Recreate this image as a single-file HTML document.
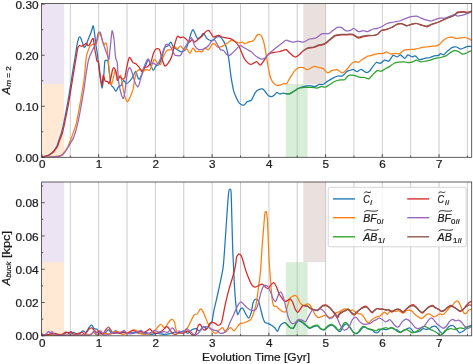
<!DOCTYPE html>
<html><head><meta charset="utf-8"><title>fig</title>
<style>html,body{margin:0;padding:0;background:#fff;}text{stroke:#1a1a1a;stroke-width:0.22px;}svg{display:block;will-change:transform;font-family:"Liberation Sans",sans-serif;}</style></head><body>
<svg width="473" height="364" viewBox="0 0 473 364">
<rect width="473" height="364" fill="#fff"/>
<defs>
<clipPath id="ct"><rect x="41.6" y="3.5" width="430.09999999999997" height="153.8"/></clipPath>
<clipPath id="cb"><rect x="41.6" y="182.0" width="430.09999999999997" height="153.8"/></clipPath>
</defs>
<rect x="41.94" y="84.0" width="22.21" height="73.3" fill="#ff7f0e" fill-opacity="0.18"/>
<rect x="41.94" y="3.5" width="22.21" height="80.5" fill="#9467bd" fill-opacity="0.18"/>
<rect x="285.77" y="84.0" width="21.84" height="73.3" fill="#2ca02c" fill-opacity="0.18"/>
<rect x="303.24" y="3.5" width="22.24" height="80.5" fill="#8c564b" fill-opacity="0.18"/>
<path d="M70.30,3.5 V157.3 M98.67,3.5 V157.3 M127.03,3.5 V157.3 M155.40,3.5 V157.3 M183.76,3.5 V157.3 M212.13,3.5 V157.3 M240.49,3.5 V157.3 M268.86,3.5 V157.3 M297.23,3.5 V157.3 M325.59,3.5 V157.3 M353.95,3.5 V157.3 M382.32,3.5 V157.3 M410.69,3.5 V157.3 M439.05,3.5 V157.3 M467.41,3.5 V157.3" stroke="#b0b0b0" stroke-opacity="0.7" stroke-width="0.9" fill="none"/>
<g clip-path="url(#ct)" fill="none" stroke-width="1.25" stroke-linejoin="round" stroke-linecap="butt">
<path d="M41.6,157.0C41.9,156.9 43.6,156.6 44.3,156.4C44.9,156.2 46.2,156.0 46.8,155.8C47.4,155.6 48.7,155.0 49.3,154.7C49.9,154.3 51.2,153.5 51.8,153.0C52.4,152.5 53.3,151.4 53.8,150.8C54.2,150.2 55.0,149.1 55.4,148.5C55.8,147.9 56.6,146.9 57.0,146.0C57.4,145.1 58.0,143.1 58.5,141.5C59.0,139.9 60.6,135.9 61.4,133.0C62.2,130.1 64.0,122.0 64.8,118.0C65.6,114.0 67.2,105.5 68.0,101.0C68.8,96.5 70.4,86.4 71.1,82.0C71.8,77.6 73.0,69.7 73.6,66.1C74.2,62.5 75.3,56.1 75.7,53.5C76.1,50.9 76.7,46.9 77.0,45.0C77.3,43.1 78.2,39.7 78.5,38.7C78.8,37.7 79.4,36.9 79.7,36.9C80.0,36.9 80.7,37.7 81.0,38.5C81.3,39.3 82.1,41.9 82.5,43.0C82.9,44.1 83.9,47.1 84.3,47.4C84.7,47.7 85.5,46.4 86.0,45.5C86.5,44.6 87.5,41.3 88.0,40.0C88.5,38.7 89.5,36.2 90.0,35.0C90.5,33.8 91.4,31.1 91.8,30.0C92.2,28.9 92.9,25.4 93.2,25.8C93.5,26.2 94.2,30.6 94.5,33.0C94.8,35.4 95.6,42.5 96.0,45.3C96.4,48.0 97.1,51.7 97.5,55.0C97.9,58.3 98.8,67.4 99.4,71.5C100.0,75.6 101.4,87.7 102.0,88.0C102.6,88.3 103.6,77.3 103.9,74.0C104.2,70.7 104.5,63.2 104.8,61.5C105.1,59.8 106.0,60.5 106.4,60.5C106.8,60.5 107.7,59.9 108.0,61.3C108.3,62.7 108.9,69.7 109.2,72.0C109.5,74.3 110.0,78.3 110.3,80.0C110.6,81.7 111.1,84.6 111.5,85.5C111.9,86.4 112.9,86.7 113.4,87.4C114.0,88.1 115.3,91.3 115.9,91.2C116.5,91.1 117.9,87.4 118.5,86.7C119.1,86.0 120.4,86.3 121.0,85.5C121.6,84.7 122.9,80.6 123.6,80.4C124.3,80.2 125.7,83.8 126.7,83.6C127.7,83.4 130.7,80.0 131.8,78.5C132.9,77.0 134.9,71.7 135.6,71.5C136.3,71.3 137.0,75.6 137.5,76.6C138.0,77.5 138.7,79.7 139.4,79.1C140.1,78.5 142.4,73.2 143.2,71.5C144.0,69.8 145.2,66.6 145.8,65.2C146.4,63.8 147.7,60.0 148.3,60.0C148.9,60.0 150.2,63.9 150.8,65.2C151.4,66.5 152.8,70.4 153.4,70.5C154.0,70.6 155.2,66.8 155.9,66.0C156.6,65.2 158.2,65.6 158.9,64.5C159.7,63.4 161.2,59.1 161.9,57.0C162.6,54.9 164.1,48.8 164.8,47.4C165.5,46.0 167.1,46.6 167.8,46.0C168.6,45.4 170.1,42.0 170.8,42.2C171.5,42.4 172.9,46.5 173.7,47.4C174.5,48.3 176.5,49.1 177.4,49.7C178.3,50.3 180.0,51.9 181.0,51.9C182.0,51.9 184.7,50.9 185.6,49.7C186.5,48.5 187.9,44.2 188.6,42.2C189.2,40.2 190.2,35.6 190.8,34.0C191.4,32.4 192.4,29.6 193.0,29.6C193.6,29.6 194.6,32.9 195.2,34.0C195.8,35.1 196.8,38.1 197.5,38.5C198.2,38.9 199.7,37.6 200.4,37.0C201.1,36.4 202.7,33.2 203.4,33.3C204.2,33.4 205.7,37.0 206.4,37.8C207.1,38.6 208.5,39.7 209.3,40.0C210.1,40.3 211.8,40.8 212.7,40.4C213.6,40.0 215.9,37.4 216.9,37.0C217.9,36.6 219.5,36.5 220.3,37.0C221.2,37.5 222.9,40.0 223.7,41.3C224.4,42.6 225.7,45.0 226.3,47.2C226.9,49.4 228.3,55.9 228.8,59.1C229.3,62.3 230.1,69.9 230.5,72.8C230.9,75.7 231.5,79.9 231.9,82.1C232.3,84.3 233.1,88.7 233.6,90.6C234.1,92.5 235.4,95.8 236.2,97.4C236.9,99.0 238.6,102.4 239.6,103.4C240.6,104.4 242.9,105.3 243.8,105.1C244.8,104.9 246.2,102.3 247.2,101.7C248.2,101.1 250.5,101.1 251.5,100.0C252.5,98.9 254.1,94.5 254.9,93.2C255.8,91.9 257.3,90.3 258.3,89.8C259.3,89.3 261.8,88.7 262.6,88.9C263.5,89.1 264.4,90.7 265.1,91.5C265.8,92.3 267.6,95.1 268.5,95.7C269.4,96.3 271.1,96.7 271.9,96.6C272.6,96.5 273.9,95.4 274.5,94.9C275.1,94.4 276.4,92.4 277.0,92.3C277.6,92.2 278.9,93.9 279.6,94.0C280.4,94.1 282.3,93.2 283.0,93.2C283.7,93.2 284.7,93.5 285.5,93.6C286.3,93.7 288.7,93.9 289.5,93.8C290.3,93.7 291.3,92.9 292.0,92.5C292.7,92.1 294.1,91.1 294.8,90.6C295.6,90.1 296.9,89.0 298.0,88.5C299.1,88.0 301.9,87.0 303.3,86.6C304.8,86.2 308.2,85.5 309.6,85.5C311.1,85.5 313.7,86.7 314.9,86.6C316.1,86.5 318.1,84.8 319.1,84.5C320.2,84.2 322.2,84.9 323.3,84.5C324.4,84.1 326.4,82.1 327.6,81.3C328.8,80.5 331.6,78.8 332.9,78.1C334.2,77.4 336.9,76.3 338.1,76.0C339.3,75.7 341.3,76.5 342.4,76.0C343.5,75.5 345.7,72.5 346.6,71.8C347.5,71.1 348.7,70.8 349.5,70.5C350.3,70.2 352.3,69.3 353.0,69.3C353.7,69.3 354.7,70.3 355.2,70.6C355.7,70.9 356.4,71.8 357.1,71.6C357.8,71.4 360.0,69.3 360.9,69.3C361.8,69.2 363.3,70.8 364.0,71.2C364.7,71.6 365.9,72.7 366.6,72.6C367.3,72.5 369.1,71.5 369.9,70.7C370.7,69.9 372.2,67.4 373.0,66.4C373.8,65.4 375.3,62.9 376.2,62.5C377.1,62.1 379.3,63.6 380.4,63.3C381.4,63.0 383.5,60.4 384.6,60.1C385.7,59.8 387.8,61.7 388.9,61.1C390.0,60.5 392.1,55.9 393.1,55.4C394.2,54.9 396.4,57.0 397.3,56.9C398.2,56.8 399.6,54.6 400.5,54.8C401.4,55.0 403.8,58.4 404.7,58.4C405.6,58.4 407.0,55.0 407.9,54.8C408.8,54.6 411.2,56.8 412.1,56.9C413.0,57.0 414.4,55.5 415.3,55.9C416.2,56.2 418.3,59.4 419.5,59.7C420.7,60.0 423.5,58.7 424.8,58.4C426.1,58.1 428.9,57.8 430.1,57.5C431.3,57.2 433.2,56.2 434.3,55.9C435.4,55.6 437.7,55.7 438.5,55.4C439.3,55.1 439.9,53.8 440.6,53.7C441.3,53.6 442.9,55.2 443.8,54.8C444.7,54.4 447.0,51.5 448.1,50.6C449.2,49.7 451.2,47.9 452.3,47.4C453.4,46.9 455.4,46.8 456.5,47.0C457.6,47.2 459.6,49.1 460.7,49.1C461.8,49.1 464.1,47.8 465.0,47.4C465.9,47.0 467.2,46.4 468.1,46.3C469.0,46.2 471.5,46.3 472.0,46.3" stroke="#1f77b4"/>
<path d="M41.6,157.0C43.0,157.0 50.6,156.9 52.5,156.8C54.4,156.7 55.9,156.5 56.8,156.4C57.7,156.3 59.3,156.2 60.0,155.9C60.7,155.6 61.9,154.8 62.5,154.3C63.1,153.8 64.1,152.4 64.6,151.8C65.1,151.2 65.9,149.9 66.3,149.2C66.7,148.5 67.2,148.0 67.9,146.5C68.6,145.0 70.7,139.8 71.7,137.0C72.7,134.2 75.1,127.8 76.0,124.4C76.9,121.0 78.2,113.8 79.0,109.6C79.8,105.4 81.7,94.3 82.3,90.6C82.9,86.9 83.6,82.8 84.0,80.0C84.4,77.2 84.9,71.0 85.2,68.0C85.5,65.0 86.0,58.2 86.4,55.9C86.8,53.6 88.0,50.8 88.5,49.5C89.0,48.2 89.9,46.0 90.7,45.3C91.5,44.6 94.2,44.2 94.9,44.0C95.6,43.8 95.9,44.9 96.3,44.0C96.7,43.1 97.5,38.4 98.0,37.0C98.5,35.6 99.5,32.5 100.0,32.7C100.5,33.0 101.5,37.5 102.0,39.0C102.5,40.5 103.4,44.2 103.9,44.7C104.4,45.2 105.4,42.6 105.8,42.8C106.2,43.0 106.7,44.5 107.0,46.6C107.3,48.8 108.0,56.6 108.3,60.0C108.6,63.4 109.3,70.9 109.6,74.0C109.9,77.1 110.5,84.0 110.9,84.8C111.3,85.6 112.2,82.3 112.8,80.4C113.3,78.5 114.8,69.6 115.3,69.6C115.8,69.6 116.6,79.7 117.2,80.4C117.8,81.1 119.8,74.8 120.4,75.3C121.0,75.8 121.8,81.6 122.3,84.2C122.8,86.8 124.1,94.0 124.8,96.2C125.5,98.4 126.9,101.6 127.5,101.8C128.1,102.0 129.2,99.1 129.9,97.5C130.6,95.9 132.4,91.8 133.0,89.3C133.6,86.8 134.5,80.0 135.0,77.8C135.5,75.6 136.3,72.5 136.9,71.5C137.5,70.5 139.2,69.6 140.0,69.6C140.8,69.6 142.5,71.5 143.2,71.5C143.9,71.5 145.0,69.8 145.8,69.6C146.6,69.4 148.9,70.7 149.6,70.2C150.3,69.8 150.9,67.4 151.5,66.0C152.1,64.6 153.7,59.7 154.4,59.3C155.1,58.9 156.7,62.4 157.4,63.0C158.2,63.6 159.7,65.2 160.4,64.5C161.1,63.8 162.5,58.8 163.3,57.0C164.1,55.2 166.1,51.3 167.0,50.4C167.9,49.5 170.0,50.2 170.8,49.7C171.6,49.2 172.9,46.1 173.7,46.0C174.5,45.9 176.6,48.9 177.4,48.9C178.2,48.9 179.6,45.9 180.4,46.0C181.2,46.1 183.3,49.3 184.1,49.7C184.9,50.1 186.3,48.4 187.0,48.9C187.7,49.4 189.2,53.5 190.0,53.4C190.8,53.3 192.2,48.4 193.0,48.2C193.8,48.0 195.3,51.5 196.0,51.9C196.7,52.3 198.2,51.1 198.9,51.1C199.6,51.1 201.2,52.3 201.9,51.9C202.7,51.5 204.1,48.5 204.9,48.2C205.7,47.9 207.5,50.2 208.4,49.8C209.3,49.4 211.1,45.5 211.8,44.7C212.6,44.0 213.7,43.5 214.4,43.8C215.2,44.1 216.9,46.9 217.8,47.2C218.8,47.5 220.9,46.8 222.0,46.4C223.1,46.0 225.1,44.5 226.3,43.8C227.5,43.0 230.3,40.7 231.4,40.4C232.5,40.1 233.9,41.0 234.8,41.3C235.8,41.6 238.1,42.9 239.0,43.0C239.9,43.1 241.7,42.0 242.4,42.1C243.2,42.2 244.2,43.8 245.0,43.8C245.8,43.8 247.6,42.4 248.4,42.1C249.2,41.8 251.1,41.6 251.8,41.3C252.6,41.0 253.8,40.4 254.4,39.6C255.0,38.9 256.3,35.9 256.9,35.3C257.5,34.7 258.9,34.3 259.5,34.5C260.1,34.7 261.4,35.6 262.0,37.0C262.6,38.4 264.1,43.2 264.6,45.5C265.1,47.8 265.9,53.1 266.3,55.7C266.7,58.3 267.6,63.6 268.0,66.0C268.4,68.3 269.3,72.8 269.7,74.5C270.1,76.2 271.0,78.9 271.5,80.0C272.0,81.1 272.9,82.3 273.6,83.0C274.3,83.7 276.0,85.3 277.0,85.5C278.0,85.7 280.4,85.0 281.3,84.7C282.2,84.5 283.2,83.6 283.8,83.5C284.4,83.4 285.8,84.2 286.4,83.8C287.0,83.4 288.0,81.3 288.5,80.5C289.0,79.7 289.8,78.3 290.6,77.1C291.4,75.9 293.8,71.9 294.8,70.7C295.9,69.5 297.9,68.0 299.0,67.6C300.1,67.2 302.2,67.3 303.3,67.6C304.4,67.9 306.2,69.8 307.5,69.7C308.8,69.6 312.4,66.8 313.8,66.5C315.2,66.2 317.9,67.3 319.1,67.6C320.3,67.9 322.2,67.9 323.3,68.6C324.4,69.3 326.5,72.6 327.6,72.9C328.7,73.2 330.6,71.1 331.8,70.7C333.0,70.3 335.8,69.4 337.1,69.7C338.4,70.0 341.2,72.9 342.4,72.9C343.6,72.9 345.6,70.8 346.6,69.7C347.7,68.6 349.9,65.3 350.8,64.4C351.7,63.5 352.8,62.6 353.5,62.2C354.2,61.8 355.5,61.5 356.1,61.5C356.7,61.5 357.7,62.6 358.4,62.4C359.1,62.2 360.5,60.6 361.4,60.0C362.3,59.4 364.6,58.1 365.4,57.6C366.2,57.1 367.3,56.2 367.9,56.0C368.5,55.8 369.4,55.9 370.0,55.8C370.6,55.6 372.0,55.1 373.0,54.8C374.0,54.5 377.0,53.9 378.3,53.7C379.6,53.5 382.6,53.5 383.6,53.3C384.7,53.1 385.8,51.9 386.7,52.0C387.6,52.1 389.9,54.0 391.0,54.2C392.1,54.4 394.1,53.4 395.2,53.3C396.2,53.2 398.2,54.1 399.4,53.7C400.6,53.3 403.4,50.4 404.7,49.9C406.0,49.4 408.7,49.6 410.0,49.5C411.3,49.4 414.0,49.3 415.3,49.1C416.6,48.9 419.3,48.1 420.6,47.8C421.9,47.5 424.6,47.2 425.9,47.0C427.2,46.8 429.8,46.4 431.1,46.3C432.4,46.2 435.3,46.2 436.4,45.9C437.5,45.6 438.7,44.9 439.6,44.2C440.5,43.5 442.7,40.8 443.8,40.0C444.9,39.2 447.0,37.9 448.1,37.5C449.2,37.1 451.2,37.1 452.3,37.2C453.4,37.3 455.4,38.4 456.5,38.5C457.6,38.6 459.6,38.0 460.7,37.9C461.8,37.8 463.9,37.4 465.0,37.5C466.1,37.6 468.3,38.5 469.2,38.9C470.1,39.3 471.6,40.7 472.0,41.0" stroke="#ff7f0e"/>
<path d="M285.5,93.6C286.0,93.6 288.7,93.9 289.5,93.8C290.3,93.7 291.3,92.9 292.0,92.5C292.7,92.1 294.1,91.2 294.8,90.8C295.5,90.4 296.8,89.4 297.5,89.0C298.2,88.6 299.1,88.1 300.1,87.9C301.1,87.7 303.9,87.5 305.4,87.4C306.8,87.3 310.2,87.3 311.7,87.4C313.1,87.5 315.8,88.2 317.0,88.1C318.2,88.0 320.1,86.7 321.2,86.6C322.3,86.5 324.4,87.5 325.5,87.2C326.6,86.9 328.5,85.2 329.7,84.5C330.9,83.8 333.7,81.9 335.0,81.3C336.3,80.7 339.1,80.0 340.3,79.8C341.5,79.6 343.4,80.3 344.5,79.8C345.6,79.2 347.5,76.0 348.7,75.4C349.9,74.9 352.7,75.2 354.0,75.4C355.3,75.6 358.0,76.8 359.3,77.1C360.6,77.4 363.4,77.3 364.6,77.5C365.8,77.7 367.8,79.2 368.8,78.8C369.9,78.4 371.9,75.5 373.0,74.5C374.1,73.5 376.1,71.0 377.2,70.6C378.3,70.2 380.4,71.4 381.5,71.1C382.6,70.8 384.6,69.1 385.7,68.5C386.8,67.9 388.8,67.1 389.9,66.4C390.9,65.8 393.0,63.8 394.1,63.3C395.2,62.8 397.2,62.4 398.4,62.2C399.6,62.0 402.5,61.8 403.7,61.8C404.9,61.8 406.8,62.5 407.9,62.6C408.9,62.7 411.1,62.5 412.1,62.2C413.2,61.9 415.2,60.2 416.3,60.1C417.4,60.0 419.4,61.7 420.6,61.8C421.8,61.9 424.7,61.3 425.9,61.1C427.1,60.9 428.9,60.4 430.1,60.1C431.3,59.8 434.1,58.7 435.4,58.4C436.7,58.1 439.3,57.8 440.6,57.5C441.9,57.2 444.7,56.5 445.9,55.9C447.1,55.3 449.1,53.4 450.2,52.7C451.3,52.0 453.3,50.7 454.4,50.6C455.4,50.5 457.5,51.1 458.6,51.6C459.7,52.1 461.8,54.1 462.9,54.2C464.0,54.3 466.2,53.1 467.1,52.7C468.0,52.3 469.6,51.4 470.2,51.2C470.8,51.0 471.8,51.2 472.0,51.2" stroke="#2ca02c"/>
<path d="M41.6,157.0C42.0,156.9 43.8,156.6 44.5,156.4C45.2,156.2 46.4,156.0 47.0,155.8C47.6,155.6 48.9,155.1 49.5,154.8C50.1,154.5 51.5,153.6 52.1,153.1C52.7,152.6 53.7,151.6 54.2,151.0C54.7,150.4 55.5,149.3 55.9,148.7C56.3,148.1 57.2,147.1 57.6,146.2C58.0,145.3 58.6,143.0 59.2,141.3C59.8,139.6 61.6,135.8 62.4,132.9C63.2,130.0 64.9,122.0 65.7,118.0C66.5,114.0 68.2,105.5 69.0,101.0C69.8,96.5 71.4,86.4 72.1,82.0C72.8,77.6 74.1,69.7 74.7,66.1C75.3,62.5 76.4,55.8 76.8,53.5C77.2,51.2 77.6,48.8 77.9,47.8C78.2,46.8 78.9,45.9 79.4,45.7C79.9,45.5 81.4,46.3 82.1,46.2C82.8,46.1 84.2,45.0 84.7,44.6C85.2,44.2 85.9,42.9 86.3,43.0C86.7,43.1 87.5,45.5 87.9,45.7C88.3,45.9 89.1,45.1 89.5,44.6C89.9,44.1 90.8,42.1 91.1,41.4C91.4,40.7 91.8,39.7 92.1,39.3C92.4,38.9 93.0,38.1 93.2,38.5C93.4,38.9 93.7,41.1 93.9,42.5C94.1,43.9 94.7,48.5 94.9,50.0C95.1,51.5 95.5,53.1 95.8,54.5C96.0,55.9 96.6,59.9 96.9,60.9C97.2,61.9 98.1,60.6 98.5,62.2C98.9,63.8 99.6,71.1 100.0,74.0C100.4,76.9 101.6,85.3 102.0,85.5C102.4,85.7 102.8,75.9 103.2,75.3C103.6,74.7 104.6,80.2 105.2,81.0C105.8,81.8 107.2,81.3 107.7,81.6C108.2,81.9 108.6,84.1 109.0,83.6C109.4,83.1 110.5,79.5 110.9,77.8C111.3,76.1 112.1,71.3 112.5,70.0C112.9,68.7 113.6,67.5 114.0,67.7C114.4,67.9 115.4,69.9 115.9,71.5C116.4,73.1 117.3,79.8 117.8,80.4C118.3,81.0 119.1,76.8 119.7,76.6C120.3,76.4 121.7,78.9 122.3,79.1C122.9,79.2 124.2,79.2 124.8,77.8C125.3,76.4 126.1,70.2 126.7,67.7C127.3,65.2 128.5,58.1 129.3,57.5C130.1,56.9 132.1,61.8 133.0,62.6C133.9,63.4 135.4,63.3 136.2,63.9C137.0,64.5 138.7,66.8 139.4,67.7C140.1,68.7 141.4,71.5 142.0,71.5C142.6,71.5 143.3,68.3 143.9,67.7C144.5,67.1 146.1,67.6 147.0,67.0C147.9,66.4 150.0,64.2 150.8,62.6C151.6,61.0 152.6,55.7 153.2,54.0C153.8,52.3 155.1,49.5 155.9,49.0C156.7,48.5 158.8,48.5 159.6,49.7C160.3,50.9 161.2,56.6 161.9,58.6C162.6,60.6 164.1,65.4 164.8,66.0C165.5,66.6 167.0,64.8 167.8,63.7C168.6,62.6 170.7,59.3 171.5,57.0C172.3,54.7 173.8,47.8 174.5,45.2C175.2,42.6 176.7,37.2 177.4,36.3C178.1,35.4 179.7,37.7 180.4,37.8C181.2,37.9 182.7,36.8 183.4,37.0C184.1,37.2 185.6,38.6 186.3,39.3C187.0,39.9 188.6,42.2 189.3,42.2C190.1,42.2 191.7,39.3 192.3,39.3C193.0,39.3 193.8,42.2 194.5,42.2C195.2,42.2 197.3,40.0 198.2,39.3C199.1,38.6 201.0,37.2 201.9,36.3C202.8,35.4 204.8,32.6 205.6,31.9C206.4,31.2 207.9,30.1 208.6,30.4C209.3,30.7 210.9,33.2 211.5,34.0C212.1,34.8 212.6,36.8 213.5,37.0C214.4,37.2 217.5,35.3 218.6,35.3C219.7,35.3 221.0,36.7 222.0,37.0C223.0,37.3 225.2,37.7 226.3,37.9C227.4,38.1 229.3,38.2 230.5,38.7C231.7,39.2 234.5,41.1 235.6,42.1C236.7,43.1 238.2,45.1 239.0,46.4C239.8,47.7 240.9,50.8 241.6,52.3C242.2,53.8 243.4,57.0 244.2,58.3C244.9,59.6 246.8,61.9 247.6,62.6C248.4,63.4 250.2,64.3 251.0,64.3C251.8,64.3 253.7,62.9 254.4,62.6C255.1,62.3 256.2,61.4 256.9,61.7C257.6,62.0 259.4,65.2 260.3,65.1C261.2,65.0 262.8,62.1 263.7,60.9C264.6,59.7 266.2,56.7 267.1,55.7C268.0,54.7 269.5,53.6 270.5,53.2C271.5,52.8 273.6,52.5 274.8,52.3C276.0,52.1 278.9,51.7 279.9,51.5C280.9,51.3 282.2,50.7 283.0,50.5C283.8,50.3 285.4,49.2 286.3,49.6C287.2,50.0 289.5,52.9 290.6,53.8C291.7,54.7 293.8,56.9 294.8,57.0C295.9,57.1 297.9,55.7 299.0,54.9C300.1,54.1 302.2,51.5 303.3,50.7C304.4,49.9 306.2,48.9 307.5,48.5C308.8,48.1 312.4,47.9 313.8,47.5C315.2,47.1 317.8,45.8 319.1,45.4C320.4,45.0 323.1,45.0 324.4,44.3C325.7,43.6 328.4,41.1 329.7,40.1C331.0,39.1 333.6,36.6 335.0,35.9C336.4,35.2 339.7,34.9 341.3,34.8C342.9,34.7 346.2,34.8 347.7,34.8C349.1,34.8 351.6,34.4 352.9,34.8C354.2,35.2 357.0,37.7 358.2,38.0C359.4,38.3 361.3,37.2 362.5,36.9C363.7,36.6 366.4,36.1 367.7,35.9C369.0,35.7 371.8,35.7 373.0,35.5C374.2,35.3 376.1,35.1 377.2,34.5C378.3,33.9 380.3,31.1 381.5,30.5C382.7,29.9 385.4,29.8 386.7,29.4C388.0,29.0 390.7,28.0 392.0,27.3C393.3,26.6 396.1,24.6 397.3,24.1C398.5,23.7 400.3,23.5 401.5,23.7C402.7,23.9 405.5,25.8 406.8,25.8C408.1,25.9 410.9,24.4 412.1,24.1C413.3,23.8 415.1,23.4 416.3,23.5C417.5,23.6 420.3,24.8 421.6,25.2C422.9,25.6 425.6,26.9 426.9,26.8C428.2,26.7 430.9,24.6 432.2,24.1C433.5,23.6 436.2,23.0 437.5,22.5C438.8,22.0 441.5,20.9 442.8,20.3C444.1,19.7 446.8,18.4 448.1,17.8C449.4,17.2 452.1,16.4 453.3,15.7C454.5,15.0 456.4,12.7 457.6,12.2C458.8,11.7 461.7,11.5 462.9,11.5C464.1,11.5 466.0,12.4 467.1,12.3C468.2,12.2 471.4,11.0 472.0,10.8" stroke="#d62728"/>
<path d="M41.6,157.0C43.0,157.0 51.0,156.9 52.9,156.8C54.8,156.7 56.1,156.5 57.1,156.4C58.1,156.3 59.8,156.2 60.5,155.9C61.2,155.6 62.5,154.8 63.1,154.3C63.7,153.8 64.7,152.4 65.2,151.8C65.7,151.2 66.5,149.9 66.9,149.2C67.3,148.5 68.2,147.2 68.6,146.5C69.0,145.8 69.5,144.7 70.2,143.5C70.9,142.3 72.8,139.7 73.8,137.0C74.8,134.3 77.1,126.2 78.0,122.3C78.9,118.3 80.4,109.9 81.2,105.4C82.0,100.9 83.9,89.7 84.4,86.3C84.9,82.9 85.0,81.3 85.5,78.0C86.0,74.7 87.6,63.6 88.5,60.0C89.4,56.4 91.9,51.6 92.8,49.5C93.7,47.4 95.3,45.2 96.0,43.2C96.7,41.2 97.6,35.1 98.0,33.7C98.4,32.3 99.1,32.1 99.4,32.0C99.7,31.9 100.1,31.8 100.5,33.0C100.9,34.2 102.0,39.6 102.6,41.6C103.2,43.6 104.5,47.2 105.2,49.2C105.9,51.2 107.8,56.8 108.3,58.0C108.8,59.2 108.7,60.6 109.0,59.0C109.3,57.4 110.1,48.5 110.5,45.0C110.9,41.5 111.7,31.6 112.1,30.8C112.5,30.1 113.6,36.0 114.0,39.0C114.4,42.0 115.0,52.5 115.3,55.0C115.5,57.5 115.8,58.3 116.0,59.3C116.2,60.2 116.9,60.0 117.2,62.6C117.5,65.2 118.1,76.9 118.5,80.4C118.9,84.0 119.8,88.7 120.4,91.0C121.0,93.3 122.5,98.6 123.1,98.7C123.7,98.8 124.5,94.8 124.9,92.0C125.4,89.2 126.2,79.6 126.7,76.6C127.2,73.6 128.7,68.3 129.3,67.7C129.9,67.1 131.2,69.9 131.8,71.5C132.4,73.1 133.6,78.5 134.3,80.4C135.0,82.3 136.9,86.3 137.5,86.7C138.1,87.1 138.8,85.5 139.4,83.6C140.0,81.7 141.8,74.1 142.6,71.5C143.4,68.9 145.1,64.2 145.8,62.6C146.5,61.0 147.7,58.6 148.3,58.8C148.9,59.0 150.2,63.4 150.8,63.9C151.4,64.4 152.4,62.9 153.0,63.0C153.6,63.1 155.2,64.6 155.9,64.5C156.6,64.4 158.1,63.8 158.9,62.3C159.7,60.8 161.8,54.7 162.6,52.6C163.4,50.5 164.9,46.2 165.6,45.2C166.3,44.2 167.8,44.1 168.5,44.5C169.2,44.9 170.8,46.9 171.5,48.2C172.2,49.5 173.8,54.0 174.5,54.9C175.2,55.8 176.7,55.5 177.4,55.6C178.1,55.7 179.7,56.3 180.4,55.6C181.2,54.9 182.7,51.0 183.4,49.7C184.1,48.4 185.6,46.4 186.3,45.2C187.0,44.0 188.7,40.9 189.3,40.0C190.0,39.1 190.8,37.1 191.5,37.8C192.2,38.4 193.8,43.8 194.5,45.2C195.2,46.6 196.7,48.3 197.5,48.9C198.3,49.5 200.3,49.8 201.2,49.7C202.1,49.6 204.0,48.7 204.9,48.2C205.8,47.7 207.8,46.4 208.6,45.5C209.4,44.6 210.8,41.7 211.5,41.0C212.2,40.3 213.7,39.4 214.4,39.8C215.1,40.1 216.3,42.6 217.0,43.8C217.7,45.0 219.5,48.6 220.3,49.5C221.1,50.4 222.9,50.0 223.7,50.6C224.4,51.2 225.7,53.4 226.3,54.0C226.9,54.6 228.1,55.8 228.8,55.7C229.5,55.6 231.2,54.1 232.2,53.2C233.2,52.4 235.5,49.9 236.5,48.9C237.5,47.9 239.1,45.7 239.9,45.5C240.8,45.3 242.3,46.7 243.3,47.2C244.3,47.7 246.6,49.3 247.6,49.8C248.6,50.3 250.2,50.9 251.0,51.5C251.8,52.1 253.6,54.2 254.4,54.9C255.2,55.6 256.9,56.9 257.8,57.4C258.7,57.9 260.3,59.0 261.2,59.1C262.1,59.2 263.8,58.8 264.6,58.3C265.5,57.8 267.1,55.8 268.0,54.9C268.9,54.0 270.4,52.4 271.4,51.5C272.3,50.6 274.5,49.0 275.6,48.1C276.7,47.2 279.0,45.4 279.9,44.7C280.8,44.0 282.2,43.1 283.0,42.5C283.8,41.9 285.1,40.1 286.3,40.1C287.5,40.1 291.2,42.1 292.7,42.2C294.2,42.3 296.7,41.1 298.0,41.1C299.3,41.1 301.9,42.5 303.3,42.2C304.8,41.9 308.0,39.5 309.6,39.0C311.2,38.5 314.3,38.7 315.9,38.0C317.5,37.3 320.7,34.2 322.3,33.7C323.9,33.2 327.3,34.1 328.6,33.7C329.9,33.3 331.8,31.4 332.9,30.6C334.0,29.8 336.1,27.8 337.1,27.4C338.2,27.0 340.2,27.0 341.3,27.4C342.4,27.8 344.4,30.2 345.5,30.6C346.6,31.0 348.7,30.9 349.8,30.6C350.9,30.3 352.9,28.4 354.0,28.5C355.1,28.6 357.0,31.3 358.2,31.6C359.4,31.9 362.3,30.6 363.5,30.6C364.7,30.6 366.5,31.8 367.7,31.6C368.9,31.4 371.8,29.4 373.0,29.0C374.2,28.6 376.0,28.7 377.2,28.4C378.4,28.1 381.2,27.0 382.5,26.3C383.8,25.6 386.4,23.6 387.8,23.1C389.2,22.6 392.7,22.3 394.1,22.0C395.6,21.7 398.1,21.4 399.4,21.0C400.7,20.6 403.2,19.4 404.7,18.9C406.1,18.4 409.6,17.0 411.0,16.7C412.4,16.4 415.1,16.0 416.3,16.1C417.5,16.2 419.4,17.3 420.6,17.8C421.8,18.3 424.6,19.5 425.9,19.9C427.2,20.3 429.9,21.1 431.1,21.0C432.3,20.9 434.3,19.9 435.4,19.5C436.5,19.1 438.4,18.4 439.6,18.2C440.8,18.0 443.6,18.5 444.9,18.2C446.2,17.9 449.0,16.6 450.2,16.1C451.4,15.7 453.5,14.6 454.4,14.6C455.3,14.6 456.7,16.0 457.6,16.1C458.5,16.2 460.6,15.6 461.8,15.3C463.0,15.0 465.8,14.1 467.1,13.6C468.4,13.1 471.4,11.8 472.0,11.5" stroke="#9467bd"/>
<path d="M303.3,50.7C303.8,50.4 306.2,48.5 307.5,48.0C308.8,47.5 312.4,47.4 313.8,47.0C315.2,46.6 317.8,45.3 319.1,44.9C320.4,44.5 323.1,44.5 324.4,43.8C325.7,43.1 328.4,40.6 329.7,39.6C331.0,38.6 333.6,36.1 335.0,35.4C336.4,34.7 339.7,34.4 341.3,34.3C342.9,34.2 346.2,34.3 347.7,34.3C349.1,34.3 351.6,33.9 352.9,34.3C354.2,34.7 357.0,37.0 358.2,37.2C359.4,37.4 361.3,36.4 362.5,36.2C363.7,36.0 366.4,35.5 367.7,35.4C369.0,35.3 371.8,35.6 373.0,35.5C374.2,35.4 376.1,35.1 377.2,34.5C378.3,33.9 380.3,31.1 381.5,30.5C382.7,29.9 385.4,29.8 386.7,29.4C388.0,29.0 390.7,28.0 392.0,27.3C393.3,26.6 396.1,24.6 397.3,24.1C398.5,23.7 400.3,23.5 401.5,23.7C402.7,23.9 405.5,25.6 406.8,25.6C408.1,25.7 410.9,24.4 412.1,24.1C413.3,23.8 415.1,23.4 416.3,23.5C417.5,23.6 420.3,24.7 421.6,25.0C422.9,25.3 425.6,26.1 426.9,26.0C428.2,25.9 430.9,24.5 432.2,24.1C433.5,23.7 436.2,23.0 437.5,22.5C438.8,22.0 441.5,20.9 442.8,20.3C444.1,19.7 446.8,18.4 448.1,17.8C449.4,17.2 452.1,16.3 453.3,15.7C454.5,15.1 456.4,13.2 457.6,12.8C458.8,12.4 461.7,12.2 462.9,12.2C464.1,12.2 466.0,12.9 467.1,12.8C468.2,12.7 471.4,11.5 472.0,11.3" stroke="#8c564b"/>
</g>
<rect x="41.94" y="262.2" width="22.21" height="73.6" fill="#ff7f0e" fill-opacity="0.18"/>
<rect x="41.94" y="182.0" width="22.21" height="80.2" fill="#9467bd" fill-opacity="0.18"/>
<rect x="285.77" y="262.2" width="21.84" height="73.6" fill="#2ca02c" fill-opacity="0.18"/>
<rect x="303.24" y="182.0" width="22.24" height="80.2" fill="#8c564b" fill-opacity="0.18"/>
<path d="M70.30,182.0 V335.8 M98.67,182.0 V335.8 M127.03,182.0 V335.8 M155.40,182.0 V335.8 M183.76,182.0 V335.8 M212.13,182.0 V335.8 M240.49,182.0 V335.8 M268.86,182.0 V335.8 M297.23,182.0 V335.8 M325.59,182.0 V335.8 M353.95,182.0 V335.8 M382.32,182.0 V335.8 M410.69,182.0 V335.8 M439.05,182.0 V335.8 M467.41,182.0 V335.8" stroke="#b0b0b0" stroke-opacity="0.7" stroke-width="0.9" fill="none"/>
<g clip-path="url(#cb)" fill="none" stroke-width="1.25" stroke-linejoin="round" stroke-linecap="butt">
<path d="M41.6,335.4C42.6,335.3 48.0,334.9 50.0,334.9C52.0,334.9 56.2,335.2 58.0,335.1C59.8,335.0 63.0,334.7 64.0,334.4C65.0,334.1 65.3,332.9 66.0,332.6C66.7,332.4 69.0,332.5 69.6,332.5C70.2,332.6 70.5,333.2 71.0,333.2C71.5,333.2 73.1,332.4 74.0,332.5C74.9,332.7 77.4,334.5 78.5,334.3C79.6,334.0 82.0,331.0 82.9,330.8C83.8,330.6 85.2,332.9 85.9,332.5C86.6,332.2 88.1,328.8 88.8,327.8C89.5,326.8 90.8,324.7 91.5,324.8C92.2,324.9 93.3,327.9 94.0,328.5C94.7,329.1 96.3,328.7 97.0,329.2C97.7,329.7 98.6,331.9 99.2,332.5C99.8,333.1 101.3,333.9 102.0,334.0C102.7,334.1 104.2,334.0 105.0,333.4C105.8,332.9 107.7,329.6 108.5,329.6C109.3,329.6 110.9,333.3 111.8,333.4C112.7,333.6 115.2,330.5 116.0,330.5C116.8,330.5 117.6,333.2 118.6,333.4C119.6,333.7 122.4,332.4 123.7,332.4C125.0,332.4 127.5,333.4 128.8,333.4C130.1,333.4 132.3,332.4 133.8,332.4C135.3,332.4 139.1,333.4 140.6,333.4C142.1,333.4 144.4,332.3 145.7,332.4C147.0,332.5 149.2,334.2 150.7,334.4C152.2,334.5 155.8,333.4 157.5,333.4C159.2,333.4 162.6,334.4 164.3,334.4C166.0,334.4 169.7,333.7 171.0,333.4C172.3,333.2 174.0,332.2 175.0,332.2C176.0,332.2 178.1,333.5 179.2,333.3C180.3,333.2 182.4,330.9 183.5,330.9C184.6,330.9 186.6,333.5 187.7,333.3C188.8,333.2 190.8,330.4 191.9,329.8C193.0,329.2 195.2,328.6 196.1,328.7C197.0,328.8 198.4,331.2 199.3,330.9C200.2,330.7 202.6,326.9 203.5,326.6C204.4,326.3 205.9,329.0 206.7,328.7C207.5,328.4 209.2,325.4 209.9,324.5C210.6,323.6 211.5,323.2 212.0,321.3C212.5,319.4 213.4,312.9 214.1,309.7C214.8,306.5 216.5,299.6 217.3,296.0C218.1,292.4 219.8,284.3 220.5,281.1C221.2,277.9 222.2,272.9 222.6,270.6C223.0,268.3 223.3,266.9 223.6,263.0C223.9,259.1 224.9,245.6 225.3,239.3C225.7,233.0 226.7,218.2 227.1,212.3C227.5,206.4 228.4,194.8 228.7,192.0C229.0,189.2 229.4,189.8 229.6,189.5C229.8,189.2 230.2,189.0 230.4,189.3C230.6,189.6 230.9,188.7 231.1,192.0C231.3,195.3 231.6,209.2 231.8,216.0C232.0,222.8 232.4,240.2 232.6,246.0C232.8,251.8 233.1,258.1 233.3,262.0C233.5,265.9 233.8,272.5 234.0,277.0C234.2,281.5 235.0,293.8 235.3,298.0C235.6,302.2 236.4,308.6 236.7,310.7C237.0,312.8 237.5,314.7 238.0,314.5C238.5,314.3 239.9,309.8 240.5,309.0C241.1,308.2 242.0,307.6 242.7,308.2C243.4,308.8 245.1,312.7 245.8,313.9C246.5,315.1 247.9,318.2 248.6,318.1C249.3,318.0 250.5,314.9 251.1,312.9C251.7,310.9 252.6,304.0 253.2,302.3C253.8,300.6 255.1,299.2 255.8,299.1C256.5,299.0 257.9,300.0 258.5,301.2C259.1,302.4 260.1,306.6 260.6,308.6C261.1,310.6 262.2,315.4 262.7,317.1C263.2,318.8 264.2,321.6 264.9,322.4C265.6,323.2 267.2,323.0 268.0,323.4C268.8,323.8 270.5,324.6 271.4,325.2C272.2,325.8 274.1,327.0 274.8,327.8C275.6,328.6 276.8,331.6 277.4,331.4C278.0,331.2 279.3,327.1 279.9,326.1C280.5,325.1 281.9,323.9 282.5,323.5C283.1,323.1 284.4,322.5 285.0,322.7C285.6,322.9 287.0,324.4 287.6,325.0C288.2,325.6 289.4,327.1 290.1,327.5C290.8,327.9 292.8,328.8 293.5,328.3C294.2,327.8 295.5,324.4 296.1,323.5C296.7,322.6 297.9,321.1 298.6,321.0C299.3,320.9 301.1,322.0 302.0,322.5C302.9,323.0 304.4,324.3 305.4,325.0C306.4,325.7 308.7,328.1 309.7,328.3C310.7,328.5 312.1,327.1 313.1,326.8C314.1,326.5 316.4,325.7 317.4,326.0C318.4,326.3 319.9,328.5 320.8,329.0C321.7,329.5 323.3,330.2 324.2,330.0C325.1,329.8 326.8,327.6 327.6,327.0C328.5,326.4 330.3,325.3 331.0,325.2C331.7,325.1 332.9,325.6 333.5,326.0C334.1,326.4 335.5,327.9 336.1,328.5C336.7,329.1 338.1,330.8 338.6,331.1C339.1,331.5 339.7,332.0 340.2,331.6C340.7,331.2 341.8,328.6 342.4,327.7C342.9,326.8 344.1,325.3 344.6,324.8C345.2,324.3 346.2,323.8 346.8,324.0C347.4,324.2 348.5,325.7 349.1,326.3C349.7,326.9 350.8,328.4 351.3,329.2C351.9,330.0 352.9,332.0 353.5,332.5C354.1,333.1 355.8,333.8 356.5,333.7C357.2,333.6 358.8,332.2 359.4,331.6C360.0,331.0 361.0,329.4 361.6,328.8C362.2,328.2 363.3,327.1 363.9,327.0C364.5,326.9 365.5,327.4 366.1,327.7C366.7,328.0 368.3,328.9 369.0,329.2C369.7,329.5 371.2,329.6 372.0,330.0C372.8,330.4 374.3,332.2 375.0,332.5C375.7,332.8 377.3,332.8 377.9,332.5C378.5,332.2 379.5,330.4 380.1,330.0C380.8,329.6 382.4,329.2 383.1,329.2C383.9,329.2 385.5,329.8 386.1,329.7C386.8,329.6 387.7,329.1 388.3,328.8C388.9,328.6 390.5,327.6 391.2,327.7C391.9,327.8 393.4,328.9 394.2,329.2C394.9,329.5 396.5,329.7 397.2,330.0C397.9,330.3 399.3,331.8 400.0,332.0C400.7,332.1 402.3,331.4 403.1,331.0C403.9,330.7 405.4,329.8 406.2,329.4C407.0,329.0 408.6,327.8 409.3,327.8C410.0,327.8 411.0,328.8 411.6,329.4C412.2,330.0 413.2,332.0 413.9,332.3C414.6,332.6 416.2,332.1 417.0,332.0C417.8,331.8 419.2,331.5 420.0,331.0C420.8,330.6 422.4,328.8 423.2,328.6C424.0,328.4 425.4,329.4 426.2,329.4C427.0,329.4 428.5,328.9 429.3,328.6C430.1,328.3 431.6,327.0 432.4,326.7C433.2,326.4 434.8,326.1 435.5,326.3C436.2,326.5 437.2,327.9 437.8,328.6C438.4,329.3 439.5,331.0 440.1,331.6C440.7,332.2 441.8,333.6 442.4,333.7C443.0,333.7 444.2,332.6 444.8,332.0C445.4,331.3 446.5,329.3 447.1,328.6C447.7,327.9 448.7,326.7 449.4,326.3C450.1,325.9 451.8,325.4 452.5,325.5C453.2,325.6 454.2,326.4 454.8,327.0C455.4,327.6 456.5,329.4 457.1,330.1C457.7,330.8 458.8,332.5 459.4,332.8C460.0,333.0 461.1,332.2 461.7,332.0C462.3,331.7 463.5,330.9 464.1,330.5C464.7,330.0 465.8,329.1 466.4,328.6C467.0,328.1 468.1,326.7 468.7,326.3C469.3,325.9 470.6,325.5 471.0,325.5C471.4,325.5 471.9,325.9 472.0,326.0" stroke="#1f77b4"/>
<path d="M41.6,335.4C43.9,335.4 55.2,335.2 60.0,335.1C64.8,335.0 76.2,335.0 80.0,334.9C83.8,334.8 88.6,334.6 90.3,334.3C92.0,334.0 92.6,332.5 93.3,332.5C94.0,332.6 95.2,334.4 96.0,334.6C96.8,334.8 98.7,334.2 100.0,334.0C101.3,333.9 105.5,333.4 106.8,333.4C108.1,333.5 109.0,334.6 110.1,334.4C111.1,334.1 114.1,331.9 115.2,331.5C116.3,331.1 117.8,331.1 118.6,331.5C119.4,331.9 120.7,334.3 122.0,334.4C123.3,334.5 127.4,333.0 128.8,332.4C130.2,331.9 132.1,330.2 133.0,330.0C133.9,329.8 135.6,330.0 136.4,330.5C137.2,330.9 138.8,333.0 139.7,333.4C140.6,333.9 142.6,334.4 144.0,334.4C145.4,334.4 149.2,334.0 150.7,333.4C152.2,332.9 154.8,330.5 155.8,329.6C156.8,328.7 157.8,326.8 158.4,326.2C159.0,325.6 160.3,324.4 160.9,324.5C161.5,324.6 162.9,326.6 163.4,327.0C163.9,327.4 164.6,328.3 165.1,327.9C165.6,327.5 167.1,324.6 167.7,323.7C168.3,322.8 169.6,320.8 170.2,320.3C170.8,319.8 172.2,319.3 172.7,319.5C173.2,319.7 174.0,321.0 174.4,322.0C174.8,323.0 175.3,326.4 175.6,327.7C175.9,329.0 176.4,331.5 177.1,332.2C177.8,332.9 180.2,333.5 181.3,333.3C182.4,333.2 184.5,332.2 185.6,330.9C186.7,329.7 188.8,325.4 189.8,323.4C190.9,321.4 193.1,316.2 194.0,315.0C194.9,313.8 196.4,314.6 197.2,313.9C198.0,313.1 199.7,309.4 200.4,309.0C201.1,308.6 201.8,309.6 202.5,310.7C203.2,311.8 204.9,316.2 205.7,318.1C206.5,320.0 208.0,323.9 208.8,325.5C209.6,327.1 211.1,329.9 212.0,330.9C212.9,331.9 215.3,333.5 216.2,333.3C217.1,333.2 218.6,330.5 219.4,329.8C220.2,329.1 221.8,327.4 222.6,327.7C223.4,328.0 224.9,332.1 225.7,332.2C226.5,332.3 228.2,329.3 228.9,328.7C229.6,328.1 230.3,327.4 231.0,327.7C231.7,328.0 233.4,331.1 234.2,330.9C235.0,330.8 236.6,327.5 237.4,326.6C238.2,325.7 239.7,323.8 240.5,323.4C241.3,322.9 242.8,323.3 243.7,323.0C244.6,322.7 247.0,321.8 247.9,321.3C248.8,320.8 250.3,320.5 251.1,319.2C251.9,317.9 253.6,312.8 254.3,310.7C255.0,308.6 255.9,305.2 256.4,302.3C256.9,299.4 258.0,291.5 258.5,287.5C259.0,283.5 260.2,275.2 260.6,270.6C261.0,266.0 261.4,255.9 261.8,250.6C262.2,245.3 263.2,232.8 263.6,228.1C264.0,223.4 264.6,215.4 264.9,213.4C265.1,211.4 265.4,212.2 265.6,212.0C265.8,211.8 266.1,210.9 266.3,211.8C266.5,212.7 267.1,215.3 267.4,219.0C267.6,222.7 268.1,235.6 268.3,241.0C268.5,246.4 268.9,257.5 269.2,262.0C269.4,266.5 270.0,273.1 270.3,277.0C270.6,280.9 271.2,289.8 271.5,293.0C271.8,296.2 272.4,301.3 272.8,303.0C273.2,304.7 273.8,305.9 274.3,306.3C274.8,306.7 275.9,306.2 276.5,306.5C277.1,306.8 278.4,308.4 279.1,309.0C279.9,309.6 281.6,311.3 282.5,311.6C283.4,311.9 285.3,312.4 285.9,311.6C286.5,310.9 287.1,307.3 287.6,305.6C288.1,303.9 289.5,299.2 290.1,298.0C290.7,296.8 292.1,296.6 292.7,296.3C293.3,296.0 294.6,295.2 295.2,295.4C295.8,295.6 297.2,297.0 297.8,298.0C298.4,299.0 299.6,302.2 300.3,303.1C301.0,304.1 302.8,305.5 303.7,305.6C304.6,305.7 306.4,304.0 307.1,303.9C307.9,303.8 309.1,304.2 309.7,304.8C310.3,305.4 311.7,307.8 312.3,309.0C312.9,310.2 314.1,313.0 314.8,314.1C315.5,315.2 317.3,317.3 318.2,317.6C319.1,317.9 320.8,317.0 321.6,316.7C322.5,316.4 324.2,315.0 325.0,315.0C325.8,315.0 327.0,316.4 327.6,316.7C328.2,317.0 329.4,317.7 330.1,317.6C330.8,317.5 332.8,316.5 333.5,315.9C334.2,315.3 335.5,313.2 336.1,312.7C336.7,312.2 337.4,312.4 338.0,312.2C338.6,311.9 340.2,311.1 340.9,310.7C341.6,310.3 343.2,309.4 343.9,309.2C344.6,309.0 346.1,309.0 346.8,309.2C347.5,309.4 349.1,310.6 349.8,310.7C350.6,310.8 352.1,309.8 352.8,310.0C353.5,310.2 355.0,311.7 355.7,312.2C356.4,312.7 358.0,313.4 358.7,313.7C359.4,314.0 360.9,313.8 361.6,314.4C362.3,314.9 364.0,317.2 364.6,318.1C365.2,319.0 366.2,321.2 366.8,321.8C367.4,322.4 368.4,322.8 369.0,322.6C369.6,322.4 370.7,320.9 371.3,320.3C371.9,319.7 373.5,318.6 374.2,318.1C374.9,317.6 376.5,316.9 377.2,316.6C377.9,316.3 379.5,316.3 380.1,315.9C380.8,315.5 381.8,314.2 382.4,313.7C383.0,313.2 384.0,312.1 384.6,312.2C385.2,312.3 386.9,314.5 387.5,314.4C388.1,314.3 389.2,312.0 389.8,311.5C390.4,311.0 392.0,310.7 392.7,310.7C393.4,310.7 395.0,311.5 395.7,311.5C396.4,311.5 397.9,310.6 398.6,310.7C399.3,310.8 401.0,312.1 401.6,312.4C402.2,312.7 402.5,313.4 403.1,313.2C403.7,313.0 405.4,311.2 406.2,310.8C407.0,310.4 408.5,310.0 409.3,310.1C410.1,310.2 411.5,311.0 412.3,311.6C413.1,312.2 414.6,314.0 415.4,314.7C416.2,315.4 417.7,316.5 418.5,317.0C419.3,317.5 420.8,318.7 421.6,318.6C422.4,318.5 423.9,316.8 424.7,316.2C425.5,315.6 427.0,314.1 427.8,313.9C428.6,313.7 430.1,314.3 430.9,314.7C431.7,315.1 433.2,316.9 434.0,317.0C434.8,317.1 436.2,315.9 437.0,315.5C437.8,315.1 439.3,314.0 440.1,313.9C440.9,313.8 442.4,315.0 443.2,314.7C444.0,314.4 445.5,312.5 446.3,311.6C447.1,310.7 448.6,308.5 449.4,307.7C450.2,306.9 451.8,306.1 452.5,305.4C453.2,304.7 454.2,302.9 454.8,302.3C455.4,301.7 456.8,300.7 457.4,300.8C458.0,300.9 458.9,302.1 459.4,303.1C459.9,304.1 461.1,307.2 461.7,308.5C462.3,309.8 463.5,312.6 464.1,313.2C464.7,313.8 465.8,313.6 466.4,313.2C467.0,312.8 468.0,310.6 468.7,310.1C469.4,309.6 471.6,309.4 472.0,309.3" stroke="#ff7f0e"/>
<path d="M285.5,322.7C285.8,323.0 287.0,324.6 287.6,325.2C288.2,325.8 289.4,327.5 290.1,327.8C290.8,328.1 292.8,328.4 293.5,327.8C294.2,327.2 295.5,323.7 296.1,322.7C296.7,321.7 297.9,320.2 298.6,320.1C299.3,320.0 301.1,321.3 302.0,321.8C302.9,322.3 304.4,323.6 305.4,324.4C306.4,325.1 308.7,327.6 309.7,327.8C310.7,328.0 312.1,326.4 313.1,326.1C314.1,325.8 316.4,324.9 317.4,325.2C318.4,325.5 319.9,328.1 320.8,328.6C321.7,329.1 323.3,329.8 324.2,329.5C325.1,329.2 326.8,326.7 327.6,326.1C328.5,325.5 330.3,324.5 331.0,324.4C331.7,324.3 332.9,324.9 333.5,325.2C334.1,325.5 335.0,326.3 335.5,326.8C336.0,327.3 336.7,328.8 337.2,329.2C337.7,329.6 338.8,330.3 339.4,330.0C340.0,329.7 341.1,327.8 341.7,327.0C342.3,326.2 343.3,323.9 343.9,323.3C344.4,322.8 345.6,322.4 346.1,322.6C346.7,322.8 347.8,324.1 348.3,324.8C348.9,325.5 349.9,327.6 350.5,328.5C351.1,329.4 352.2,331.0 352.8,331.6C353.4,332.2 355.0,333.3 355.7,333.3C356.4,333.3 358.1,332.2 358.7,331.6C359.3,331.0 360.3,329.2 360.9,328.5C361.4,327.8 362.6,326.5 363.1,326.3C363.7,326.1 364.7,326.7 365.3,327.0C365.9,327.3 367.0,328.2 367.6,328.5C368.2,328.8 369.8,329.0 370.5,329.2C371.2,329.4 372.8,329.8 373.5,330.0C374.2,330.2 375.8,330.9 376.4,330.8C377.0,330.7 378.1,329.4 378.7,329.2C379.3,329.0 380.3,329.3 380.9,329.2C381.5,329.1 383.1,328.4 383.8,328.2C384.5,328.0 385.5,327.6 386.1,327.7C386.8,327.8 388.3,328.8 389.0,328.8C389.7,328.8 391.3,327.6 392.0,327.7C392.7,327.8 394.2,328.7 394.9,329.2C395.6,329.7 397.2,331.2 397.9,331.6C398.6,332.0 399.9,332.8 400.5,332.6C401.1,332.5 402.4,330.9 403.1,330.5C403.8,330.1 405.4,329.3 406.2,329.4C407.0,329.5 408.5,330.6 409.3,331.0C410.1,331.5 411.5,332.6 412.3,332.8C413.1,332.9 414.6,332.3 415.4,332.0C416.2,331.6 417.7,330.6 418.5,330.1C419.3,329.6 420.8,328.3 421.6,327.8C422.4,327.3 423.9,326.3 424.7,326.3C425.5,326.3 427.0,327.4 427.8,327.8C428.6,328.2 430.1,329.4 430.9,329.8C431.7,330.2 433.2,330.7 434.0,331.0C434.8,331.4 436.3,332.3 437.0,332.8C437.7,333.2 438.8,334.7 439.4,334.9C440.0,335.1 441.0,335.1 441.7,334.6C442.4,334.1 444.0,331.7 444.8,331.0C445.6,330.4 447.0,329.7 447.8,329.4C448.6,329.1 450.1,328.6 450.9,328.6C451.7,328.6 453.2,329.4 454.0,329.4C454.8,329.4 456.3,328.8 457.1,328.6C457.9,328.4 459.4,327.8 460.2,327.8C461.0,327.8 462.5,328.7 463.3,328.6C464.1,328.5 465.6,327.3 466.4,327.0C467.2,326.7 468.8,326.2 469.5,326.3C470.2,326.4 471.7,327.6 472.0,327.8" stroke="#2ca02c"/>
<path d="M41.6,335.4C42.5,335.3 47.2,334.5 48.9,334.3C50.5,334.0 53.3,333.2 54.8,333.3C56.3,333.4 59.3,335.1 60.7,335.0C62.1,334.9 64.9,332.4 65.9,332.2C66.9,332.0 68.3,333.4 68.9,333.3C69.5,333.3 70.4,331.6 71.0,331.7C71.6,331.8 73.1,334.1 74.0,334.3C74.9,334.5 77.5,333.6 78.5,333.3C79.5,333.1 81.4,332.4 82.2,332.5C83.0,332.6 84.3,334.7 85.1,334.3C85.9,333.8 88.0,330.0 88.8,329.2C89.6,328.4 91.1,327.7 91.8,327.8C92.5,327.9 93.3,329.4 94.0,330.0C94.7,330.6 96.3,332.4 97.0,332.5C97.7,332.6 98.5,330.6 99.2,330.8C99.9,331.0 101.7,333.7 102.2,334.0C102.7,334.4 102.9,334.0 103.4,333.4C103.9,332.9 105.3,330.4 105.9,329.6C106.5,328.8 107.9,326.9 108.5,327.0C109.1,327.1 110.4,329.7 111.0,330.5C111.6,331.3 112.8,333.2 113.5,333.4C114.2,333.7 116.1,332.4 116.9,332.4C117.8,332.4 119.5,333.6 120.3,333.4C121.1,333.3 122.9,331.5 123.7,331.5C124.5,331.5 126.2,333.4 127.0,333.4C127.8,333.4 129.6,331.9 130.4,331.5C131.2,331.1 133.0,330.3 133.8,330.5C134.7,330.6 136.3,332.3 137.2,332.4C138.0,332.5 139.8,331.5 140.6,331.5C141.4,331.5 143.2,332.5 144.0,332.4C144.8,332.3 146.7,330.9 147.4,330.5C148.1,330.0 149.3,328.7 149.9,328.8C150.5,328.9 151.7,330.9 152.4,331.5C153.1,332.1 155.0,333.3 155.8,333.4C156.7,333.6 158.3,332.8 159.2,332.4C160.0,332.0 161.8,331.1 162.6,330.5C163.4,329.8 165.4,327.4 166.0,327.0C166.6,326.6 167.2,326.6 167.7,327.0C168.2,327.4 169.6,329.7 170.2,330.5C170.8,331.3 172.0,333.0 172.7,333.4C173.4,333.9 175.3,334.5 176.1,334.4C176.9,334.2 178.3,332.3 179.2,332.2C180.1,332.1 182.4,333.5 183.5,333.3C184.6,333.2 186.6,330.8 187.7,330.9C188.8,331.1 191.0,334.1 191.9,334.6C192.8,335.1 194.3,336.0 195.1,334.9C195.9,333.8 197.6,326.8 198.3,325.5C199.0,324.2 199.8,324.0 200.4,324.5C201.1,325.0 202.7,329.3 203.5,329.8C204.3,330.3 205.9,329.5 206.7,328.7C207.5,327.9 209.2,324.2 209.9,323.4C210.6,322.6 211.3,322.4 212.0,322.4C212.7,322.4 214.4,323.0 215.2,323.4C216.0,323.8 217.5,325.6 218.3,325.5C219.1,325.4 220.8,324.0 221.5,322.4C222.2,320.8 223.1,315.4 223.6,312.9C224.1,310.4 225.0,305.2 225.7,302.3C226.4,299.4 228.1,292.5 228.9,289.6C229.7,286.7 231.3,281.9 232.1,279.0C232.9,276.1 234.8,269.0 235.3,266.3C235.9,263.6 236.2,258.8 236.5,257.4C236.8,256.0 237.7,255.2 238.0,254.8C238.3,254.4 238.9,253.8 239.3,254.0C239.7,254.2 241.0,255.1 241.5,256.2C242.0,257.3 243.0,260.7 243.5,262.5C244.0,264.3 245.1,268.5 245.8,270.6C246.5,272.7 248.2,277.1 249.0,279.0C249.8,280.9 251.4,284.4 252.2,285.4C253.0,286.4 254.4,287.2 255.3,287.1C256.2,287.1 258.7,285.4 259.6,285.0C260.5,284.6 261.9,284.0 262.7,284.3C263.5,284.6 265.2,287.0 265.9,287.5C266.6,288.0 267.3,288.9 268.0,288.5C268.7,288.1 270.6,285.1 271.4,284.4C272.1,283.7 273.4,282.4 274.0,282.7C274.6,283.0 275.9,285.5 276.5,286.9C277.1,288.3 278.4,292.2 279.1,293.7C279.9,295.2 281.8,297.8 282.5,298.8C283.2,299.8 284.4,301.2 285.0,301.4C285.6,301.6 287.0,300.8 287.6,300.5C288.2,300.2 289.5,298.6 290.1,298.8C290.7,299.0 292.1,300.9 292.7,302.2C293.3,303.5 294.6,307.7 295.2,309.0C295.8,310.3 297.2,312.4 297.8,312.4C298.4,312.4 299.7,309.9 300.3,309.0C300.9,308.1 302.2,306.0 302.9,305.6C303.5,305.2 304.9,305.7 305.5,305.8C306.1,305.9 307.3,306.1 308.0,306.5C308.7,306.9 310.5,308.6 311.4,309.0C312.2,309.4 314.1,309.7 314.8,309.9C315.6,310.1 316.8,310.9 317.4,310.7C318.0,310.5 319.3,308.8 319.9,308.2C320.5,307.6 321.8,306.0 322.5,305.6C323.2,305.2 325.2,304.7 325.9,304.8C326.6,304.9 327.8,306.0 328.4,306.5C329.0,307.0 330.4,308.3 331.0,309.0C331.6,309.7 332.9,311.6 333.5,312.4C334.1,313.1 335.0,314.3 335.5,315.0C336.0,315.7 337.0,318.1 337.5,318.0C338.0,317.9 338.8,315.1 339.4,314.4C340.0,313.7 341.6,312.7 342.4,312.2C343.1,311.7 344.7,311.1 345.4,310.7C346.1,310.3 347.6,308.9 348.3,309.2C349.0,309.5 350.6,312.1 351.3,312.9C352.0,313.6 353.5,315.3 354.2,315.2C354.9,315.1 356.4,312.9 357.2,312.2C357.9,311.4 359.5,309.8 360.2,309.2C360.9,308.6 362.4,307.4 363.1,307.0C363.8,306.6 365.4,306.0 366.1,306.3C366.8,306.6 368.3,308.4 369.0,309.2C369.7,310.0 371.4,312.7 372.0,312.9C372.6,313.1 373.6,311.2 374.2,310.7C374.8,310.1 376.5,308.7 377.2,308.5C377.9,308.3 379.4,309.1 380.1,309.2C380.8,309.3 382.4,309.1 383.1,309.2C383.9,309.3 385.4,309.9 386.1,310.0C386.8,310.1 388.3,309.7 389.0,310.0C389.7,310.3 391.3,312.2 392.0,312.2C392.7,312.2 394.2,310.4 394.9,310.0C395.6,309.6 397.2,309.2 397.9,309.2C398.6,309.2 399.9,309.8 400.5,310.2C401.1,310.6 402.4,312.5 403.1,312.4C403.8,312.3 405.4,310.1 406.2,309.3C407.0,308.5 408.4,306.8 409.3,306.2C410.2,305.6 412.2,304.6 413.1,304.7C414.0,304.8 415.4,306.2 416.2,307.0C417.0,307.8 418.5,310.0 419.3,310.8C420.1,311.6 421.6,313.3 422.4,313.2C423.2,313.1 424.7,310.9 425.5,310.1C426.3,309.3 427.7,307.6 428.6,307.0C429.5,306.4 431.5,305.3 432.4,305.4C433.3,305.5 434.7,307.2 435.5,307.7C436.3,308.2 437.8,308.8 438.6,309.3C439.4,309.8 440.9,311.5 441.7,311.6C442.5,311.7 444.0,310.7 444.8,310.1C445.6,309.5 447.0,307.6 447.8,307.0C448.6,306.4 450.1,305.4 450.9,305.4C451.7,305.4 453.2,306.5 454.0,307.0C454.8,307.5 456.3,308.7 457.1,309.3C457.9,309.9 459.4,311.6 460.2,311.6C461.0,311.6 462.5,310.1 463.3,309.3C464.1,308.5 465.6,306.4 466.4,305.5C467.2,304.6 468.8,302.8 469.5,302.3C470.2,301.8 471.7,301.7 472.0,301.6" stroke="#d62728"/>
<path d="M41.6,335.5C42.0,335.5 43.9,335.4 44.5,335.2C45.1,335.0 46.0,334.3 46.5,333.8C47.0,333.3 48.1,331.5 48.6,331.4C49.1,331.3 49.8,332.8 50.2,332.9C50.6,332.9 51.4,331.6 51.8,331.6C52.2,331.7 52.9,332.9 53.4,333.3C53.9,333.7 55.0,334.6 55.5,334.8C56.0,335.0 55.8,335.2 57.0,335.3C58.2,335.4 62.1,335.2 65.0,335.2C67.9,335.2 76.8,335.1 80.0,335.1C83.2,335.1 88.5,335.5 90.3,335.0C92.0,334.5 93.2,330.8 94.0,330.8C94.8,330.8 96.2,335.0 97.0,335.0C97.8,335.0 99.9,330.8 100.7,330.8C101.5,330.8 102.7,334.4 103.6,334.8C104.5,335.2 106.8,334.7 108.0,334.4C109.2,334.1 112.4,332.5 113.5,332.4C114.6,332.3 115.8,333.6 116.9,333.4C118.0,333.3 121.0,331.9 122.0,331.5C123.0,331.1 123.9,330.2 124.5,330.5C125.1,330.7 125.8,333.1 127.0,333.4C128.2,333.8 132.4,333.7 133.8,333.4C135.2,333.2 137.1,331.9 138.0,331.5C138.9,331.1 140.7,330.2 141.4,330.5C142.2,330.7 143.1,333.1 144.0,333.4C144.9,333.8 147.7,333.8 149.0,333.4C150.3,333.1 153.0,330.7 154.1,330.5C155.2,330.2 156.7,331.3 157.5,331.5C158.3,331.7 160.1,332.4 160.9,332.4C161.8,332.4 163.5,331.5 164.3,331.5C165.2,331.5 167.0,332.7 167.7,332.4C168.4,332.2 169.6,330.2 170.2,329.6C170.8,329.0 172.1,327.7 172.7,327.9C173.3,328.1 174.8,330.8 175.3,331.5C175.8,332.2 176.5,333.4 177.0,333.3C177.5,333.3 178.5,330.9 179.2,330.9C179.9,330.9 181.5,333.6 182.4,333.3C183.3,333.1 185.7,329.0 186.6,328.7C187.5,328.4 188.9,330.2 189.8,330.9C190.7,331.7 192.9,334.3 194.0,334.6C195.1,334.9 197.2,334.2 198.3,333.3C199.4,332.5 201.6,328.5 202.5,327.7C203.4,326.9 204.9,326.6 205.7,326.6C206.5,326.6 207.9,327.3 208.8,327.7C209.7,328.1 212.0,329.4 213.1,329.8C214.2,330.2 216.4,330.5 217.3,330.9C218.2,331.4 219.6,333.2 220.5,333.3C221.4,333.5 223.8,332.9 224.7,332.2C225.6,331.5 227.2,328.9 227.9,327.7C228.6,326.5 229.3,323.9 230.0,322.4C230.7,320.9 232.3,317.7 233.1,316.0C233.9,314.3 235.6,310.1 236.3,308.6C237.0,307.2 237.8,305.2 238.4,304.4C239.0,303.6 240.3,301.9 241.0,301.9C241.7,301.9 243.0,303.7 243.7,304.4C244.4,305.1 246.1,306.9 246.9,307.6C247.7,308.3 249.3,309.3 250.1,309.7C250.9,310.1 252.4,310.8 253.2,310.7C254.0,310.6 255.7,309.7 256.4,308.6C257.1,307.6 258.0,304.2 258.5,302.3C259.0,300.4 260.1,295.7 260.6,293.8C261.1,291.9 262.2,288.6 262.7,287.5C263.2,286.4 264.4,285.6 264.9,285.4C265.4,285.2 266.6,285.5 267.0,285.8C267.4,286.1 268.1,286.7 268.5,287.5C268.9,288.3 270.0,290.6 270.6,292.0C271.2,293.4 272.5,297.6 273.1,298.8C273.7,300.0 275.1,301.8 275.7,301.4C276.3,301.0 277.6,296.6 278.2,295.4C278.8,294.2 280.2,291.8 280.8,292.0C281.4,292.2 282.7,295.2 283.3,297.1C283.9,299.0 285.3,304.7 285.9,307.3C286.5,309.9 287.7,315.6 288.4,317.6C289.1,319.6 290.9,322.9 291.8,323.5C292.7,324.1 294.3,323.2 295.2,322.7C296.1,322.2 297.8,319.6 298.6,319.3C299.5,319.0 301.1,319.8 302.0,320.1C302.9,320.4 304.5,322.3 305.4,321.8C306.3,321.3 308.0,317.4 308.9,315.9C309.8,314.4 311.4,310.5 312.3,309.9C313.2,309.2 314.8,310.8 315.7,310.7C316.6,310.6 318.2,309.1 319.1,309.0C320.0,308.9 321.6,309.3 322.5,309.9C323.4,310.5 325.0,313.0 325.9,314.1C326.8,315.2 328.4,318.0 329.3,318.4C330.2,318.8 332.0,318.1 332.7,317.6C333.4,317.1 334.6,314.4 335.2,314.5C335.8,314.6 336.7,317.0 337.2,318.1C337.7,319.2 338.8,322.1 339.4,323.3C340.0,324.5 341.1,326.9 341.7,327.7C342.3,328.5 343.3,329.8 343.9,330.0C344.5,330.2 346.1,329.8 346.8,329.2C347.5,328.6 349.2,326.6 349.8,325.5C350.4,324.4 351.4,321.3 352.0,320.3C352.6,319.3 353.6,317.8 354.2,317.4C354.8,317.0 355.9,317.0 356.5,317.4C357.1,317.8 358.1,319.6 358.7,320.3C359.3,321.0 360.9,322.8 361.6,323.3C362.3,323.8 363.9,324.2 364.6,324.3C365.4,324.4 366.9,324.1 367.6,324.0C368.3,323.9 369.8,323.7 370.5,323.3C371.2,322.9 372.8,321.6 373.5,321.1C374.2,320.6 375.7,320.0 376.4,319.6C377.1,319.2 378.6,318.1 379.4,318.1C380.1,318.1 381.7,319.1 382.4,319.6C383.1,320.1 384.7,321.6 385.3,321.8C385.9,322.0 386.9,321.4 387.5,321.1C388.1,320.8 389.2,319.5 389.8,319.6C390.4,319.7 391.4,321.2 392.0,321.8C392.6,322.4 393.6,324.2 394.2,324.8C394.8,325.4 396.6,326.9 397.2,327.0C397.8,327.1 398.8,326.7 399.4,326.0C400.0,325.3 401.6,322.4 402.3,321.6C403.1,320.8 404.6,319.5 405.4,319.3C406.2,319.1 407.7,319.6 408.5,320.1C409.3,320.6 410.8,322.3 411.6,323.2C412.4,324.1 413.9,326.3 414.7,327.0C415.5,327.7 416.9,328.5 417.7,328.6C418.5,328.7 420.0,328.1 420.8,327.8C421.6,327.5 423.1,327.0 423.9,326.3C424.7,325.6 426.3,323.3 427.0,322.4C427.7,321.5 428.7,319.9 429.3,319.3C429.9,318.7 431.0,317.7 431.6,317.8C432.2,317.9 433.3,319.3 434.0,320.1C434.7,320.9 436.2,323.2 437.0,324.0C437.8,324.8 439.3,325.8 440.1,326.3C440.9,326.8 442.4,328.3 443.2,328.3C444.0,328.3 445.5,327.1 446.3,326.3C447.1,325.5 448.6,322.5 449.4,321.6C450.2,320.7 451.7,319.4 452.5,319.3C453.3,319.2 454.8,320.8 455.6,320.9C456.4,321.0 457.8,319.9 458.6,320.1C459.4,320.3 460.9,321.6 461.7,322.4C462.5,323.2 464.0,325.5 464.8,326.3C465.6,327.1 467.2,328.5 467.9,328.6C468.6,328.7 469.7,327.5 470.2,327.0C470.7,326.5 471.8,325.0 472.0,324.7" stroke="#9467bd"/>
<path d="M303.5,305.6C303.8,305.6 304.9,305.7 305.5,305.8C306.1,305.9 307.3,306.1 308.0,306.5C308.7,306.9 310.5,308.6 311.4,309.0C312.2,309.4 314.1,309.6 314.8,309.7C315.6,309.9 316.8,310.6 317.4,310.4C318.0,310.2 319.3,308.9 319.9,308.3C320.5,307.8 321.8,306.6 322.5,306.2C323.2,305.9 325.2,305.5 325.9,305.6C326.6,305.6 327.8,306.5 328.4,306.9C329.0,307.4 330.4,308.4 331.0,309.0C331.6,309.6 332.9,311.2 333.5,311.8C334.1,312.4 335.0,313.3 335.5,313.9C336.0,314.5 337.0,316.4 337.5,316.4C338.0,316.3 338.8,314.0 339.4,313.4C340.0,312.8 341.6,312.0 342.4,311.6C343.1,311.2 344.7,310.7 345.4,310.4C346.1,310.1 347.6,308.9 348.3,309.2C349.0,309.4 350.6,311.6 351.3,312.2C352.0,312.8 353.5,314.2 354.2,314.1C354.9,314.0 356.4,312.2 357.2,311.6C357.9,311.0 359.5,309.8 360.2,309.3C360.9,308.8 362.4,308.0 363.1,307.8C363.8,307.5 365.4,307.0 366.1,307.2C366.8,307.4 368.3,308.5 369.0,309.2C369.7,309.8 371.4,312.0 372.0,312.2C372.6,312.4 373.6,310.8 374.2,310.4C374.8,309.9 376.5,308.7 377.2,308.6C377.9,308.4 379.4,309.1 380.1,309.2C380.8,309.2 382.4,309.1 383.1,309.2C383.9,309.2 385.4,309.7 386.1,309.8C386.8,309.9 388.3,309.6 389.0,309.8C389.7,310.0 391.3,311.6 392.0,311.6C392.7,311.6 394.2,310.1 394.9,309.8C395.6,309.5 397.2,309.1 397.9,309.2C398.6,309.2 399.9,309.7 400.5,310.0C401.1,310.3 402.4,311.9 403.1,311.8C403.8,311.7 405.4,309.9 406.2,309.2C407.0,308.6 408.4,307.3 409.3,306.9C410.2,306.4 412.2,305.7 413.1,305.7C414.0,305.8 415.4,306.8 416.2,307.4C417.0,308.0 418.5,309.8 419.3,310.5C420.1,311.1 421.6,312.5 422.4,312.4C423.2,312.4 424.7,310.5 425.5,309.9C426.3,309.3 427.7,307.8 428.6,307.4C429.5,306.9 431.5,306.1 432.4,306.2C433.3,306.3 434.7,307.6 435.5,307.9C436.3,308.3 437.8,308.8 438.6,309.2C439.4,309.6 440.9,311.1 441.7,311.1C442.5,311.2 444.0,310.4 444.8,309.9C445.6,309.4 447.0,307.8 447.8,307.4C448.6,306.9 450.1,306.2 450.9,306.2C451.7,306.2 453.2,307.0 454.0,307.4C454.8,307.7 456.3,308.8 457.1,309.2C457.9,309.7 459.4,311.1 460.2,311.1C461.0,311.2 462.5,310.1 463.3,309.5C464.1,308.9 465.6,307.0 466.4,306.4C467.2,305.8 468.8,304.9 469.5,304.8C470.2,304.7 471.7,305.3 472.0,305.4" stroke="#8c564b"/>
</g>
<path d="M41.6,157.30 h3.1 M41.6,106.27 h3.1 M41.6,55.24 h3.1 M41.6,4.21 h3.1 M41.6,131.79 h1.7 M41.6,80.76 h1.7 M41.6,29.73 h1.7 M41.94,157.3 v-3.1 M98.67,157.3 v-3.1 M155.40,157.3 v-3.1 M212.13,157.3 v-3.1 M268.86,157.3 v-3.1 M325.59,157.3 v-3.1 M382.32,157.3 v-3.1 M439.05,157.3 v-3.1 M70.30,157.3 v-1.7 M127.03,157.3 v-1.7 M183.76,157.3 v-1.7 M240.49,157.3 v-1.7 M297.23,157.3 v-1.7 M353.95,157.3 v-1.7 M410.69,157.3 v-1.7 M467.41,157.3 v-1.7" stroke="#333" stroke-width="0.8" fill="none"/>
<rect x="41.6" y="3.5" width="430.09999999999997" height="153.8" fill="none" stroke="#383838" stroke-width="0.8"/>
<path d="M41.6,335.80 h3.1 M41.6,302.52 h3.1 M41.6,269.24 h3.1 M41.6,235.96 h3.1 M41.6,202.68 h3.1 M41.6,319.16 h1.7 M41.6,285.88 h1.7 M41.6,252.60 h1.7 M41.6,219.32 h1.7 M41.6,186.04 h1.7 M41.94,335.8 v-3.1 M98.67,335.8 v-3.1 M155.40,335.8 v-3.1 M212.13,335.8 v-3.1 M268.86,335.8 v-3.1 M325.59,335.8 v-3.1 M382.32,335.8 v-3.1 M439.05,335.8 v-3.1 M70.30,335.8 v-1.7 M127.03,335.8 v-1.7 M183.76,335.8 v-1.7 M240.49,335.8 v-1.7 M297.23,335.8 v-1.7 M353.95,335.8 v-1.7 M410.69,335.8 v-1.7 M467.41,335.8 v-1.7" stroke="#333" stroke-width="0.8" fill="none"/>
<rect x="41.6" y="182.0" width="430.09999999999997" height="153.8" fill="none" stroke="#383838" stroke-width="0.8"/>
<text x="15.5" y="161.8" font-size="10.9" textLength="23.1" lengthAdjust="spacingAndGlyphs" fill="#1a1a1a">0.00</text>
<text x="15.5" y="110.8" font-size="10.9" textLength="23.1" lengthAdjust="spacingAndGlyphs" fill="#1a1a1a">0.10</text>
<text x="15.5" y="59.7" font-size="10.9" textLength="23.1" lengthAdjust="spacingAndGlyphs" fill="#1a1a1a">0.20</text>
<text x="15.5" y="8.7" font-size="10.9" textLength="23.1" lengthAdjust="spacingAndGlyphs" fill="#1a1a1a">0.30</text>
<text x="15.5" y="340.3" font-size="10.9" textLength="23.1" lengthAdjust="spacingAndGlyphs" fill="#1a1a1a">0.00</text>
<text x="15.5" y="307.0" font-size="10.9" textLength="23.1" lengthAdjust="spacingAndGlyphs" fill="#1a1a1a">0.02</text>
<text x="15.5" y="273.7" font-size="10.9" textLength="23.1" lengthAdjust="spacingAndGlyphs" fill="#1a1a1a">0.04</text>
<text x="15.5" y="240.5" font-size="10.9" textLength="23.1" lengthAdjust="spacingAndGlyphs" fill="#1a1a1a">0.06</text>
<text x="15.5" y="207.2" font-size="10.9" textLength="23.1" lengthAdjust="spacingAndGlyphs" fill="#1a1a1a">0.08</text>
<text x="38.9" y="168.4" font-size="10.9" textLength="6.5" lengthAdjust="spacingAndGlyphs" fill="#1a1a1a">0</text>
<text x="95.7" y="168.4" font-size="10.9" textLength="6.5" lengthAdjust="spacingAndGlyphs" fill="#1a1a1a">1</text>
<text x="152.4" y="168.4" font-size="10.9" textLength="6.5" lengthAdjust="spacingAndGlyphs" fill="#1a1a1a">2</text>
<text x="209.1" y="168.4" font-size="10.9" textLength="6.5" lengthAdjust="spacingAndGlyphs" fill="#1a1a1a">3</text>
<text x="265.9" y="168.4" font-size="10.9" textLength="6.5" lengthAdjust="spacingAndGlyphs" fill="#1a1a1a">4</text>
<text x="322.6" y="168.4" font-size="10.9" textLength="6.5" lengthAdjust="spacingAndGlyphs" fill="#1a1a1a">5</text>
<text x="379.3" y="168.4" font-size="10.9" textLength="6.5" lengthAdjust="spacingAndGlyphs" fill="#1a1a1a">6</text>
<text x="436.0" y="168.4" font-size="10.9" textLength="6.5" lengthAdjust="spacingAndGlyphs" fill="#1a1a1a">7</text>
<text x="38.9" y="346.9" font-size="10.9" textLength="6.5" lengthAdjust="spacingAndGlyphs" fill="#1a1a1a">0</text>
<text x="95.7" y="346.9" font-size="10.9" textLength="6.5" lengthAdjust="spacingAndGlyphs" fill="#1a1a1a">1</text>
<text x="152.4" y="346.9" font-size="10.9" textLength="6.5" lengthAdjust="spacingAndGlyphs" fill="#1a1a1a">2</text>
<text x="209.1" y="346.9" font-size="10.9" textLength="6.5" lengthAdjust="spacingAndGlyphs" fill="#1a1a1a">3</text>
<text x="265.9" y="346.9" font-size="10.9" textLength="6.5" lengthAdjust="spacingAndGlyphs" fill="#1a1a1a">4</text>
<text x="322.6" y="346.9" font-size="10.9" textLength="6.5" lengthAdjust="spacingAndGlyphs" fill="#1a1a1a">5</text>
<text x="379.3" y="346.9" font-size="10.9" textLength="6.5" lengthAdjust="spacingAndGlyphs" fill="#1a1a1a">6</text>
<text x="436.0" y="346.9" font-size="10.9" textLength="6.5" lengthAdjust="spacingAndGlyphs" fill="#1a1a1a">7</text>
<text x="202" y="360.5" font-size="11.5" textLength="108" lengthAdjust="spacingAndGlyphs" fill="#1a1a1a">Evolution Time [Gyr]</text>
<g transform="translate(9.9,94.6) rotate(-90)" fill="#1a1a1a"><text x="0" y="0" font-size="10.9" font-style="italic" textLength="7.5" lengthAdjust="spacingAndGlyphs">A</text><text x="7.9" y="1.5" font-size="8" textLength="20.6" lengthAdjust="spacingAndGlyphs"><tspan font-style="italic">m</tspan> = 2</text></g>
<g transform="translate(9.8,285.6) rotate(-90)" fill="#1a1a1a"><text x="0" y="0" font-size="10.9" font-style="italic" textLength="7.6" lengthAdjust="spacingAndGlyphs">A</text><text x="8" y="1.5" font-size="8" font-style="italic" textLength="16" lengthAdjust="spacingAndGlyphs">buck</text><text x="27.5" y="0" font-size="10.9" textLength="27.2" lengthAdjust="spacingAndGlyphs">[kpc]</text></g>
<rect x="328.2" y="187.3" width="138.0" height="59.5" rx="2" ry="2" fill="#fff" fill-opacity="0.8" stroke="#ccc" stroke-width="0.85"/>
<path d="M333,198.9 h22" stroke="#1f77b4" stroke-width="1.35" fill="none"/>
<text x="363.2" y="202.9" font-size="10.5" font-style="italic" textLength="6.6" lengthAdjust="spacingAndGlyphs" fill="#1a1a1a">C</text>
<text x="370.0" y="204.8" font-size="7.9" stroke="none" fill="#1a1a1a"><tspan font-style="italic" dx="0.35">i</tspan></text>
<path d="M364.2,193.3 C365.0,191.7 366.0,191.7 367.1,192.1 S369.8,192.9 371.0,191.8" fill="none" stroke="#1a1a1a" stroke-width="0.9"/>
<path d="M333,217.7 h22" stroke="#ff7f0e" stroke-width="1.35" fill="none"/>
<text x="363.2" y="221.6" font-size="10.5" font-style="italic" textLength="13.4" lengthAdjust="spacingAndGlyphs" fill="#1a1a1a">BF</text>
<text x="376.7" y="223.5" font-size="7.9" stroke="none" fill="#1a1a1a">0<tspan font-style="italic" dx="0.35">i</tspan></text>
<path d="M364.2,212.0 C365.8,210.4 367.7,210.4 369.9,210.8 S375.4,211.6 377.8,210.5" fill="none" stroke="#1a1a1a" stroke-width="0.9"/>
<path d="M333,236.8 h22" stroke="#2ca02c" stroke-width="1.35" fill="none"/>
<text x="363.2" y="240.7" font-size="10.5" font-style="italic" textLength="14.2" lengthAdjust="spacingAndGlyphs" fill="#1a1a1a">AB</text>
<text x="378.0" y="242.6" font-size="7.9" stroke="none" fill="#1a1a1a">1<tspan font-style="italic" dx="0.35">i</tspan></text>
<path d="M364.2,231.1 C365.9,229.5 367.9,229.5 370.2,229.9 S376.0,230.7 378.6,229.6" fill="none" stroke="#1a1a1a" stroke-width="0.9"/>
<path d="M407.2,198.9 h22" stroke="#d62728" stroke-width="1.35" fill="none"/>
<text x="437.6" y="202.9" font-size="10.5" font-style="italic" textLength="6.6" lengthAdjust="spacingAndGlyphs" fill="#1a1a1a">C</text>
<text x="444.7" y="204.8" font-size="7.9" stroke="none" fill="#1a1a1a"><tspan font-style="italic" dx="0.35">i</tspan><tspan font-style="italic" dx="0.35">i</tspan></text>
<path d="M438.6,193.3 C439.4,191.7 440.4,191.7 441.5,192.1 S444.2,192.9 445.4,191.8" fill="none" stroke="#1a1a1a" stroke-width="0.9"/>
<path d="M407.2,217.7 h22" stroke="#9467bd" stroke-width="1.35" fill="none"/>
<text x="437.6" y="221.6" font-size="10.5" font-style="italic" textLength="13.4" lengthAdjust="spacingAndGlyphs" fill="#1a1a1a">BF</text>
<text x="451.0" y="223.5" font-size="7.9" stroke="none" fill="#1a1a1a">0<tspan font-style="italic" dx="0.35">i</tspan><tspan font-style="italic" dx="0.35">i</tspan></text>
<path d="M438.6,212.0 C440.2,210.4 442.1,210.4 444.3,210.8 S449.8,211.6 452.2,210.5" fill="none" stroke="#1a1a1a" stroke-width="0.9"/>
<path d="M407.2,236.8 h22" stroke="#8c564b" stroke-width="1.35" fill="none"/>
<text x="437.6" y="240.7" font-size="10.5" font-style="italic" textLength="14.2" lengthAdjust="spacingAndGlyphs" fill="#1a1a1a">AB</text>
<text x="452.9" y="242.6" font-size="7.9" stroke="none" fill="#1a1a1a">1<tspan font-style="italic" dx="0.35">i</tspan><tspan font-style="italic" dx="0.35">i</tspan></text>
<path d="M438.6,231.1 C440.3,229.5 442.3,229.5 444.6,229.9 S450.4,230.7 453.0,229.6" fill="none" stroke="#1a1a1a" stroke-width="0.9"/>
</svg></body></html>
